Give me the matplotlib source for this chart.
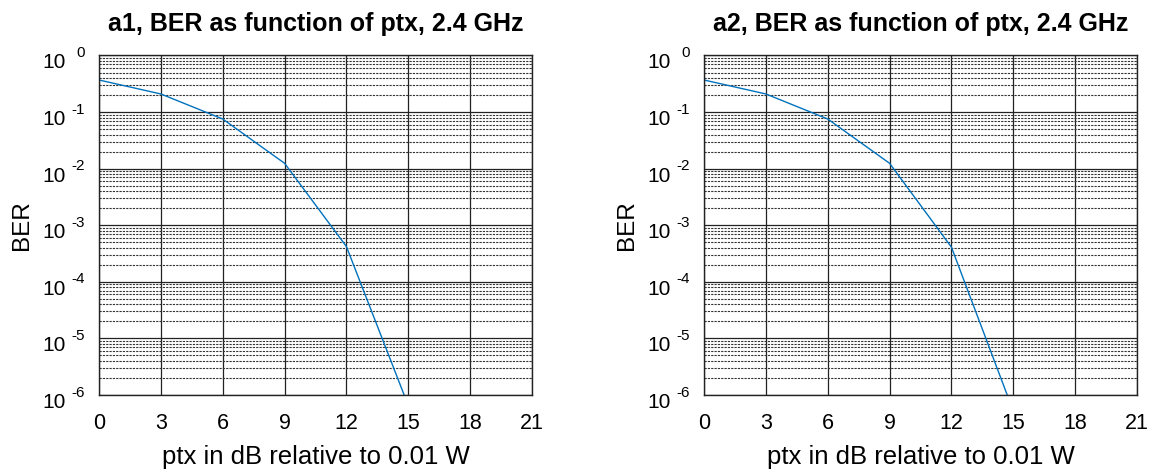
import matplotlib
matplotlib.use("Agg")
import matplotlib.pyplot as plt
from matplotlib.ticker import LogLocator, NullFormatter

plt.rcParams['font.family'] = ['Liberation Sans', 'DejaVu Sans']

# data
ptx = [0, 3, 6, 9, 12, 15]
ber_a1 = [0.369, 0.209, 0.0755, 0.01245, 4.2e-4, 6.5e-7]
ber_a2 = [0.369, 0.209, 0.0755, 0.01245, 4.1e-4, 5.2e-7]
titles = ['a1, BER as function of ptx, 2.4 GHz', 'a2, BER as function of ptx, 2.4 GHz']
xticks = [0, 3, 6, 9, 12, 15, 18, 21]
decades = [-6, -5, -4, -3, -2, -1, 0]

PX = 0.72  # points per pixel at dpi 100


def decade_labels(ax):
    # matlab style 10^k labels: base and a raised exponent
    for k in decades:
        ax.annotate('10', xy=(0, 10.0 ** k), xycoords=('axes fraction', 'data'),
                    xytext=(-33 * PX, -7.5 * PX), textcoords='offset points',
                    ha='right', va='center', fontsize=15, annotation_clip=False)
        ax.annotate(str(k), xy=(0, 10.0 ** k), xycoords=('axes fraction', 'data'),
                    xytext=(-14.5 * PX, 2.5 * PX), textcoords='offset points',
                    ha='right', va='center', fontsize=11, annotation_clip=False)


def make_panel(ax, x, y, title):
    ax.semilogy(x, y, color='#0072BD', lw=1.0)
    ax.set_xlim(0, 21)
    ax.set_ylim(1e-6, 1)
    ax.set_xticks(xticks)
    ax.set_yticks([10.0 ** k for k in decades])
    ax.set_yticklabels([])
    ax.yaxis.set_minor_locator(LogLocator(base=10, subs=range(2, 10), numticks=20))
    ax.yaxis.set_minor_formatter(NullFormatter())
    ax.grid(which='major', color='#222222', linestyle='-', lw=0.9)
    ax.grid(which='minor', axis='y', color='#333333', linestyle=(0, (2, 1)), lw=0.8)
    ax.tick_params(which='both', direction='in', length=0, labelsize=15.5)
    ax.tick_params(axis='x', pad=13)
    for s in ax.spines.values():
        s.set_color('#222222')
        s.set_linewidth(1.0)
    decade_labels(ax)
    ax.set_title(title, fontsize=18, fontweight='bold', pad=18)
    ax.set_xlabel('ptx in dB relative to 0.01 W', fontsize=18.5, labelpad=8)
    ax.set_ylabel('BER', fontsize=17.5, va='center')
    ax.yaxis.set_label_coords(-0.1767, 0.5)


fig = plt.figure(figsize=(11.55, 4.69), dpi=100)
ax1 = fig.add_axes([99 / 1155, 1 - 395 / 469, 433 / 1155, 339.5 / 469])
ax2 = fig.add_axes([704 / 1155, 1 - 395 / 469, 433 / 1155, 339.5 / 469])

make_panel(ax1, ptx, ber_a1, titles[0])
make_panel(ax2, ptx, ber_a2, titles[1])

fig.savefig('out.png', dpi=100)
